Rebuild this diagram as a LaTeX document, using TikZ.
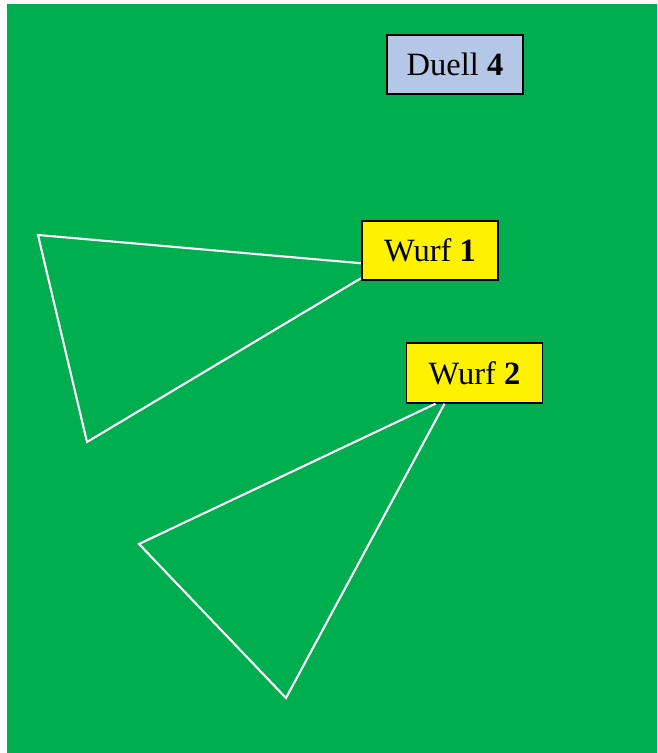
\documentclass[tikz,border=0pt]{standalone}
\usepackage{fontspec}
\setmainfont{Liberation Serif}
\definecolor{feld}{RGB}{0,173,79}
\definecolor{hellblau}{RGB}{180,199,231}
\tikzset{
  kasten/.style={draw=black, line width=1.1pt, minimum width=2.72cm,
                 minimum height=1.19cm, inner sep=0pt, font=\fontsize{18.5}{20}\selectfont},
  wurf/.style={kasten, fill=yellow},
  wurflinie/.style={draw=white, line width=1.2pt}
}
\begin{document}
\begin{tikzpicture}[x=0.02cm, y=-0.02cm]
\useasboundingbox (0,0) rectangle (657,753);
\fill[feld] (7,4) rectangle (657,753);
% Triangles
\coordinate (a1) at (38,235);
\coordinate (b1) at (87,442);
\coordinate (a2) at (139,544);
\coordinate (b2) at (286,698);
\node[kasten, fill=hellblau] (duell) at (455,64.5) {Duell \textbf{4}};
\node[wurf] (w1) at (430,250.5) {Wurf \textbf{1}};
\node[wurf] (w2) at (474.5,373) {Wurf \textbf{2}};
\draw[wurflinie] ([yshift=-0.255cm]w1.west) -- (a1)
                                           -- (b1)
                                           -- ([yshift=0.06cm]w1.south west);
\draw[wurflinie] ([xshift=0.6cm]w2.south west) -- (a2)
                                               -- (b2)
                                               -- ([xshift=0.78cm]w2.south west);
\end{tikzpicture}
\end{document}
